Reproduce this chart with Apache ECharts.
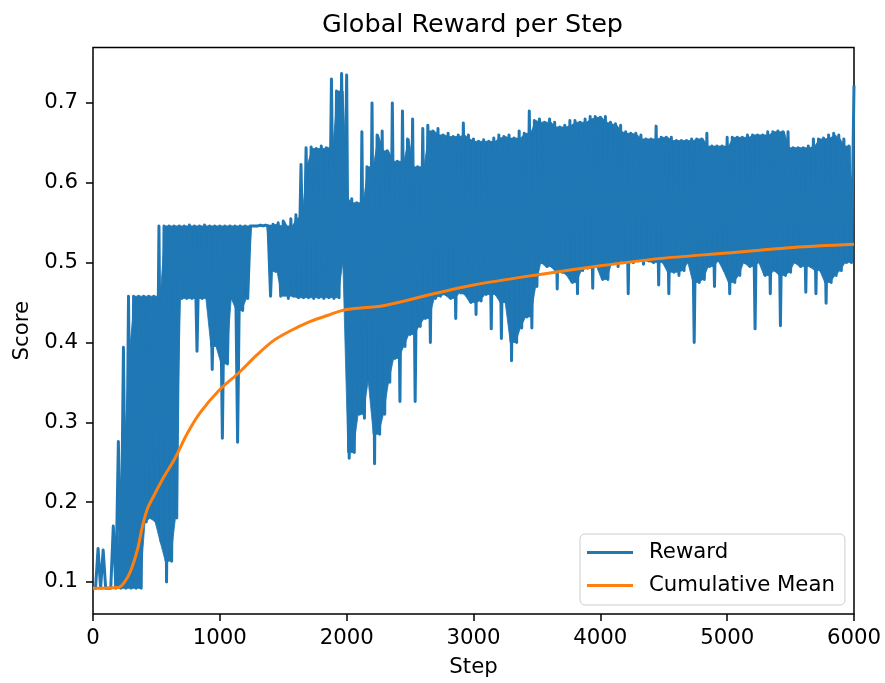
<!DOCTYPE html>
<html>
<head>
<meta charset="utf-8">
<script src="https://cdn.jsdelivr.net/npm/echarts@6/dist/echarts.min.js"></script>
<style>
html,body{margin:0;padding:0;background:#fff;}
#chart{width:885px;height:683px;}
</style>
</head>
<body>
<div id="chart"></div>
<script>
// ---- data ----
const titleText = 'Global Reward per Step';
const xLabel = 'Step';
const yLabel = 'Score';
const seriesNames = ['Reward', 'Cumulative Mean'];
const xTicks = [0, 1000, 2000, 3000, 4000, 5000, 6000];
const yTicks = [0.1, 0.2, 0.3, 0.4, 0.5, 0.6, 0.7];

// reward sampled every 20 steps (alternating upper / lower extent of the dense trace)
const rewardStepSize = 20;
const reward = [
  0.092, 0.092, 0.142, 0.092, 0.140, 0.092, 0.092, 0.092, 0.170, 0.092,
  0.276, 0.092, 0.394, 0.092, 0.458, 0.092, 0.458, 0.092, 0.458, 0.092,
  0.458, 0.175, 0.458, 0.180, 0.458, 0.175, 0.546, 0.150, 0.546, 0.100,
  0.546, 0.126, 0.546, 0.180, 0.546, 0.455, 0.546, 0.455, 0.547, 0.455,
  0.546, 0.389, 0.546, 0.455, 0.547, 0.455, 0.546, 0.366, 0.546, 0.395,
  0.546, 0.280, 0.546, 0.373, 0.546, 0.455, 0.546, 0.275, 0.546, 0.440,
  0.546, 0.455, 0.546, 0.546, 0.546, 0.546, 0.547, 0.546, 0.547, 0.546,
  0.458, 0.548, 0.489, 0.550, 0.458, 0.552, 0.546, 0.455, 0.555, 0.458,
  0.560, 0.456, 0.623, 0.456, 0.644, 0.456, 0.645, 0.455, 0.643, 0.456,
  0.646, 0.455, 0.644, 0.456, 0.730, 0.455, 0.715, 0.456, 0.737, 0.500,
  0.735, 0.255, 0.580, 0.262, 0.575, 0.310, 0.664, 0.305, 0.620, 0.352,
  0.700, 0.248, 0.660, 0.285, 0.665, 0.310, 0.640, 0.350, 0.700, 0.380,
  0.627, 0.326, 0.690, 0.395, 0.655, 0.410, 0.680, 0.326, 0.620, 0.420,
  0.668, 0.430, 0.672, 0.400, 0.665, 0.455, 0.668, 0.458, 0.660, 0.460,
  0.662, 0.455, 0.658, 0.430, 0.660, 0.462, 0.675, 0.460, 0.660, 0.450,
  0.655, 0.435, 0.652, 0.452, 0.654, 0.460, 0.652, 0.417, 0.656, 0.460,
  0.660, 0.405, 0.658, 0.450, 0.660, 0.377, 0.656, 0.400, 0.665, 0.418,
  0.662, 0.432, 0.690, 0.418, 0.678, 0.470, 0.680, 0.500, 0.676, 0.495,
  0.680, 0.495, 0.676, 0.467, 0.670, 0.488, 0.672, 0.485, 0.678, 0.475,
  0.678, 0.461, 0.676, 0.490, 0.680, 0.493, 0.683, 0.468, 0.683, 0.495,
  0.682, 0.479, 0.683, 0.479, 0.676, 0.500, 0.674, 0.495, 0.672, 0.502,
  0.664, 0.461, 0.662, 0.500, 0.662, 0.502, 0.660, 0.498, 0.655, 0.502,
  0.655, 0.500, 0.671, 0.472, 0.657, 0.500, 0.657, 0.461, 0.657, 0.488,
  0.653, 0.484, 0.653, 0.490, 0.653, 0.500, 0.655, 0.400, 0.655, 0.475,
  0.655, 0.479, 0.662, 0.495, 0.646, 0.470, 0.646, 0.502, 0.646, 0.490,
  0.657, 0.461, 0.657, 0.475, 0.657, 0.484, 0.657, 0.500, 0.660, 0.495,
  0.660, 0.417, 0.660, 0.500, 0.660, 0.484, 0.664, 0.461, 0.664, 0.490,
  0.665, 0.421, 0.664, 0.484, 0.664, 0.488, 0.644, 0.500, 0.644, 0.495,
  0.644, 0.463, 0.646, 0.495, 0.655, 0.461, 0.655, 0.490, 0.656, 0.449,
  0.660, 0.475, 0.662, 0.484, 0.660, 0.490, 0.655, 0.500, 0.646, 0.500,
  0.722
];

// cumulative mean read at a set of steps
const meanSteps = [0, 200, 250, 300, 350, 390, 430, 480, 560, 640, 740, 845, 1000, 1150, 1290, 1420, 1550, 1710, 1870, 1990, 2290, 2685, 3000, 3470, 4000, 4460, 5000, 5520, 6000];
const meanValues = [0.092, 0.093, 0.100, 0.115, 0.140, 0.170, 0.192, 0.208, 0.232, 0.253, 0.285, 0.312, 0.341, 0.362, 0.384, 0.402, 0.414, 0.426, 0.435, 0.441, 0.446, 0.461, 0.472, 0.484, 0.496, 0.505, 0.512, 0.519, 0.523];

// ---- derived series ----
const FONT = 'DejaVu Sans';
const BLUE = '#1f77b4';
const ORANGE = '#ff7f0e';
const rewardData = reward.map((v, i) => [i * rewardStepSize, v]);
const meanData = meanSteps.map((s, i) => [s, meanValues[i]]);

// solid core of the dense reward trace (drawn under the trace so it reads as a filled band)
const pairHi = [], pairLo = [], pairX = [];
for (let k = 0; 2 * k + 1 < reward.length; k++) {
  const a = reward[2 * k], b = reward[2 * k + 1];
  pairHi.push(Math.max(a, b));
  pairLo.push(Math.min(a, b));
  pairX.push((2 * k) * rewardStepSize + rewardStepSize / 2);
}
const median3 = (a, b, c) => Math.max(Math.min(a, b), Math.min(Math.max(a, b), c));
const coreLo = [], coreHi = [];
for (let k = 0; k < pairX.length; k++) {
  const km = Math.max(0, k - 1), kp = Math.min(pairX.length - 1, k + 1);
  const lo = Math.max(pairLo[k], median3(pairLo[km], pairLo[k], pairLo[kp]));
  const hi = Math.min(pairHi[km], pairHi[k], pairHi[kp]);
  coreLo.push(lo);
  coreHi.push(Math.max(lo, hi));
}
const bandSegments = [];
for (let k = 0; k + 1 < pairX.length; k++) {
  bandSegments.push([pairX[k], coreLo[k], coreHi[k], pairX[k + 1], coreLo[k + 1], coreHi[k + 1]]);
}

const chart = echarts.init(document.getElementById('chart'), null, {renderer: 'canvas'});
chart.setOption({
  animation: false,
  backgroundColor: '#ffffff',
  textStyle: {fontFamily: FONT},
  title: {
    text: titleText,
    left: 322,
    top: 12,
    padding: 0,
    textStyle: {fontFamily: FONT, fontSize: 25.5, fontWeight: 'normal', color: '#000'}
  },
  grid: {
    left: 93, right: 31, top: 47.5, bottom: 67.5,
    show: true, borderColor: '#000', borderWidth: 1.5, backgroundColor: 'transparent',
    containLabel: false
  },
  legend: {
    data: seriesNames,
    orient: 'vertical',
    left: 580, top: 534,
    padding: [8, 10, 9, 7],
    itemGap: 12,
    itemWidth: 46, itemHeight: 3,
    icon: 'rect',
    backgroundColor: '#ffffff',
    borderColor: '#cccccc', borderWidth: 1, borderRadius: 5,
    textStyle: {fontFamily: FONT, fontSize: 21.25, color: '#000', padding: [0, 0, 0, 11]}
  },
  xAxis: {
    type: 'value', min: xTicks[0], max: xTicks[xTicks.length - 1], interval: 1000,
    name: xLabel, nameLocation: 'middle', nameGap: 43,
    nameTextStyle: {fontFamily: FONT, fontSize: 21.25, color: '#000'},
    axisLine: {show: false},
    axisTick: {show: true, length: 7, lineStyle: {color: '#000', width: 1.5}},
    axisLabel: {fontFamily: FONT, fontSize: 21.25, color: '#000', margin: 14,
      showMinLabel: true, showMaxLabel: true, formatter: v => String(v)},
    splitLine: {show: false}
  },
  yAxis: {
    type: 'value', min: 0.0598, max: 0.7695,
    name: yLabel, nameLocation: 'middle', nameGap: 52,
    nameTextStyle: {fontFamily: FONT, fontSize: 21.25, color: '#000'},
    axisLine: {show: false},
    axisTick: {show: true, length: 7, customValues: yTicks, lineStyle: {color: '#000', width: 1.5}},
    axisLabel: {fontFamily: FONT, fontSize: 21.25, color: '#000', margin: 15, customValues: yTicks,
      formatter: v => Number(v).toFixed(1)},
    splitLine: {show: false}
  },
  series: [
    {
      name: 'band-core', type: 'custom', data: bandSegments, silent: true, clip: true, z: 1,
      encode: {x: [0, 3], y: [1, 2, 4, 5]},
      renderItem: (params, api) => {
        const p1 = api.coord([api.value(0), api.value(1)]);
        const p2 = api.coord([api.value(3), api.value(4)]);
        const p3 = api.coord([api.value(3), api.value(5)]);
        const p4 = api.coord([api.value(0), api.value(2)]);
        return {
          type: 'polygon',
          shape: {points: [p1, p2, p3, p4]},
          style: {fill: BLUE, stroke: BLUE, lineWidth: 0.8}
        };
      }
    },
    {
      name: seriesNames[0], type: 'line', data: rewardData,
      showSymbol: false, symbol: 'none', sampling: null, smooth: false,
      lineStyle: {color: BLUE, width: 3, join: 'round'},
      itemStyle: {color: BLUE},
      z: 2
    },
    {
      name: seriesNames[1], type: 'line', data: meanData,
      showSymbol: false, symbol: 'none', smooth: 0.3,
      lineStyle: {color: ORANGE, width: 3, join: 'round'},
      itemStyle: {color: ORANGE},
      z: 3
    }
  ]
});
</script>
</body>
</html>
